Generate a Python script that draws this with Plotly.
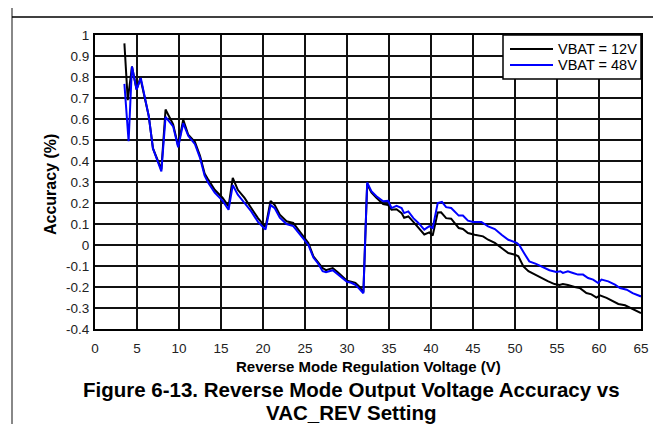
import plotly.graph_objects as go

# VBAT = 12V
v12 = [3.5, 3.9, 4.4, 4.95, 5.4, 6.4, 6.9, 7.9, 8.4, 9.3, 9.9, 10.5, 11.1, 11.9, 12.5, 13.05, 13.5, 14.25,
       15.2, 15.9, 16.4, 17.0, 17.8, 18.6, 19.4, 20.3, 20.9, 21.4, 22.0, 22.8, 23.6, 24.2, 25.0, 25.4, 26.0,
       26.5, 27.1, 27.5, 28.3, 28.9, 29.5, 30.0, 30.5, 31.0, 31.5, 31.95, 32.4, 32.9, 33.5, 34.3, 34.9, 35.3,
       35.9, 36.5, 36.8, 37.3, 37.9, 38.5, 39.2, 39.8, 40.2, 40.8, 41.2, 41.8, 42.4, 42.8, 43.3, 43.8, 44.4,
       45.2, 46.2, 46.8, 47.6, 48.4, 49.2, 50.0, 50.4, 51.0, 51.6, 52.4, 53.1, 53.9, 54.7, 55.3, 55.7, 56.3,
       57.1, 57.7, 58.5, 59.1, 59.7, 60.1, 60.9, 61.7, 62.3, 63.1, 63.9, 65.0]
a12 = [0.96, 0.69, 0.85, 0.74, 0.795, 0.614, 0.46, 0.36, 0.645, 0.575, 0.47, 0.597, 0.525, 0.49, 0.425, 0.34,
       0.31, 0.263, 0.224, 0.184, 0.32, 0.263, 0.224, 0.176, 0.128, 0.085, 0.21, 0.19, 0.144, 0.113, 0.105,
       0.073, 0.033, 0.01, -0.054, -0.078, -0.11, -0.12, -0.11, -0.13, -0.15, -0.17, -0.175, -0.18, -0.2,
       -0.225, 0.29, 0.25, 0.225, 0.195, 0.19, 0.168, 0.17, 0.152, 0.13, 0.136, 0.11, 0.083, 0.05, 0.06,
       0.045, 0.155, 0.156, 0.128, 0.125, 0.105, 0.081, 0.076, 0.057, 0.049, 0.041, 0.025, 0.01, -0.014,
       -0.038, -0.046, -0.054, -0.102, -0.125, -0.141, -0.157, -0.172, -0.186, -0.19, -0.186, -0.19, -0.2,
       -0.205, -0.229, -0.235, -0.25, -0.24, -0.252, -0.268, -0.281, -0.287, -0.303, -0.324]

# VBAT = 48V
v48 = [3.5, 4.0, 4.4, 4.95, 5.45, 6.4, 6.9, 7.9, 8.4, 9.3, 9.9, 10.5, 11.1, 11.9, 12.5, 13.05, 13.5, 14.25,
       15.2, 15.9, 16.4, 17.0, 17.8, 18.6, 19.4, 20.3, 20.9, 21.4, 22.0, 22.8, 23.6, 24.2, 25.0, 25.4, 26.0,
       26.5, 27.1, 27.5, 28.3, 28.9, 29.5, 30.0, 30.5, 31.0, 31.5, 31.95, 32.4, 32.9, 33.5, 34.3, 34.9, 35.3,
       35.9, 36.5, 36.8, 37.3, 37.9, 38.5, 39.2, 39.8, 40.2, 40.8, 41.3, 41.8, 42.4, 42.8, 43.3, 43.8, 44.4,
       45.0, 46.0, 46.8, 47.6, 48.4, 49.2, 50.2, 50.5, 51.2, 51.7, 52.5, 53.3, 54.1, 54.9, 55.4, 55.7, 56.3,
       56.9, 57.5, 58.1, 58.7, 59.3, 59.9, 60.3, 61.1, 61.9, 62.5, 63.3, 64.0, 65.0]
a48 = [0.767, 0.494, 0.85, 0.74, 0.795, 0.614, 0.46, 0.35, 0.61, 0.565, 0.465, 0.58, 0.52, 0.48, 0.415, 0.33,
       0.295, 0.25, 0.21, 0.168, 0.285, 0.24, 0.2, 0.16, 0.11, 0.073, 0.19, 0.175, 0.13, 0.1, 0.09, 0.06,
       0.02, 0.0, -0.06, -0.085, -0.125, -0.13, -0.12, -0.14, -0.16, -0.175, -0.18, -0.19, -0.21, -0.23,
       0.298, 0.256, 0.232, 0.208, 0.21, 0.176, 0.187, 0.176, 0.152, 0.16, 0.128, 0.105, 0.073, 0.09, 0.08,
       0.2, 0.205, 0.18, 0.176, 0.16, 0.14, 0.14, 0.116, 0.11, 0.11, 0.089, 0.076, 0.049, 0.025, 0.01, 0.0,
       -0.046, -0.078, -0.09, -0.106, -0.12, -0.128, -0.125, -0.133, -0.125, -0.133, -0.141, -0.141, -0.157,
       -0.165, -0.181, -0.165, -0.173, -0.189, -0.205, -0.213, -0.229, -0.245]

series_names = ["VBAT = 12V", "VBAT = 48V"]
series_colors = ["black", "#0000ff"]

x_ticks = list(range(0, 70, 5))
y_ticks = [1, 0.9, 0.8, 0.7, 0.6, 0.5, 0.4, 0.3, 0.2, 0.1, 0, -0.1, -0.2, -0.3, -0.4]
y_tick_text = ["1", "0.9", "0.8", "0.7", "0.6", "0.5", "0.4", "0.3", "0.2", "0.1", "0",
               "-0.1", "-0.2", "-0.3", "-0.4"]

FONT = "Liberation Sans, Arial, sans-serif"
W, H = 661, 424
L, R, T, B = 87, 28, 27, 103
pw, ph = W - L - R, H - T - B

def px(xp):
    return (xp - L) / pw

def py(yp):
    return (H - B - yp) / ph

fig = go.Figure()
fig.add_trace(go.Scatter(x=v12, y=a12, mode="lines", name=series_names[0],
                         line=dict(color=series_colors[0], width=2), showlegend=False))
fig.add_trace(go.Scatter(x=v48, y=a48, mode="lines", name=series_names[1],
                         line=dict(color=series_colors[1], width=2), showlegend=False))

axis_common = dict(showgrid=True, gridcolor="#111111", gridwidth=1.5, zeroline=False,
                   showline=True, linecolor="black", linewidth=2, mirror=True,
                   ticks="outside", tickcolor="rgba(0,0,0,0)",
                   tickfont=dict(family=FONT, size=13.5, color="#222222"))

fig.update_xaxes(range=[0, 65], tickvals=x_ticks, ticklen=6, **axis_common)
fig.update_yaxes(range=[-0.4, 1], tickvals=y_ticks, ticktext=y_tick_text, ticklen=1, **axis_common)

# custom legend box
leg_l, leg_r, leg_t, leg_b = 495, 633, 27, 71
leg_rows = [41, 57]
shapes = [
    dict(type="line", xref="paper", yref="paper", x0=px(4), x1=px(4), y0=py(0), y1=py(H),
         line=dict(color="#888888", width=2)),
    dict(type="line", xref="paper", yref="paper", x0=px(4), x1=px(W), y0=py(9), y1=py(9),
         line=dict(color="black", width=1.5)),
    dict(type="rect", xref="paper", yref="paper", x0=px(leg_l), x1=px(leg_r), y0=py(leg_b), y1=py(leg_t),
         fillcolor="white", line=dict(color="black", width=1.5), layer="above"),
]
annotations = [
    dict(text="<b>Reverse Mode Regulation Voltage (V)</b>",
         xref="paper", yref="paper", x=px(360), y=py(358), showarrow=False,
         xanchor="center", yanchor="middle",
         font=dict(family=FONT, size=15, color="black")),
    dict(text="<b>Accuracy (%)</b>", textangle=-90,
         xref="paper", yref="paper", x=px(42), y=py(177), showarrow=False,
         xanchor="center", yanchor="middle",
         font=dict(family=FONT, size=16, color="black")),
    dict(text="<b>Figure 6-13. Reverse Mode Output Voltage Accuracy vs</b>",
         xref="paper", yref="paper", x=px(343), y=py(382), showarrow=False,
         xanchor="center", yanchor="middle",
         font=dict(family=FONT, size=20.5, color="black")),
    dict(text="<b>VAC_REV Setting</b>",
         xref="paper", yref="paper", x=px(343), y=py(404), showarrow=False,
         xanchor="center", yanchor="middle",
         font=dict(family=FONT, size=20.5, color="black")),
]
for name, color, yrow in zip(series_names, series_colors, leg_rows):
    shapes.append(dict(type="line", xref="paper", yref="paper", x0=px(502), x1=px(545),
                       y0=py(yrow), y1=py(yrow), line=dict(color=color, width=2), layer="above"))
    annotations.append(dict(text=name, xref="paper", yref="paper", x=px(548), y=py(yrow),
                            showarrow=False, xanchor="left", yanchor="middle",
                            font=dict(family=FONT, size=14.5, color="black")))

fig.update_layout(
    width=W, height=H,
    margin=dict(l=L, r=R, t=T, b=B),
    paper_bgcolor="white", plot_bgcolor="white",
    font=dict(family=FONT, color="black"),
    showlegend=False,
    annotations=annotations,
    shapes=shapes,
)

fig.write_html("out.html")
